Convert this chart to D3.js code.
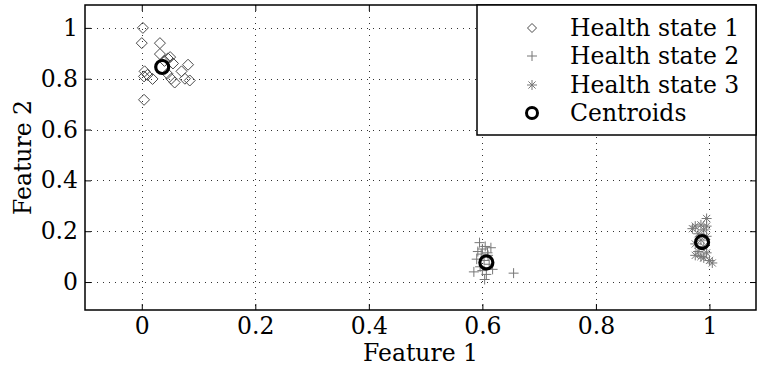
<!DOCTYPE html>
<html>
<head>
<meta charset="utf-8">
<script src="https://cdn.jsdelivr.net/npm/d3@7"></script>
<style>
  body { margin: 0; background: #fff; }
  svg text { font-family: "DejaVu Serif", "Liberation Serif", serif; fill: #000; }
</style>
</head>
<body>
<div id="chart"></div>
<script>
// Data
const state1 = [
  [0.002, 1.0], [0.0, 0.94], [0.032, 0.94], [0.032, 0.897], [0.046, 0.88],
  [0.05, 0.885], [0.04, 0.87], [0.055, 0.86], [0.0815, 0.855], [0.07, 0.829],
  [0.005, 0.829], [0.004, 0.809], [0.01, 0.815], [0.019, 0.799], [0.052, 0.80],
  [0.058, 0.785], [0.076, 0.80], [0.0845, 0.793], [0.004, 0.717], [0.045, 0.82]
];
const state2 = [
  [0.595, 0.155], [0.600, 0.13], [0.605, 0.14], [0.615, 0.135], [0.598, 0.11],
  [0.610, 0.105], [0.590, 0.09], [0.603, 0.085], [0.612, 0.07], [0.596, 0.06],
  [0.585, 0.04], [0.600, 0.045], [0.607, 0.03], [0.618, 0.05], [0.604, 0.01],
  [0.655, 0.035], [0.592, 0.12], [0.609, 0.115]
];
const state3 = [
  [0.975, 0.22], [0.985, 0.225], [0.995, 0.25], [0.99, 0.205], [0.98, 0.19],
  [0.995, 0.18], [0.985, 0.165], [0.975, 0.15], [0.99, 0.14], [0.98, 0.12],
  [0.995, 0.115], [0.985, 0.10], [0.975, 0.105], [1.0, 0.085], [1.005, 0.075],
  [0.99, 0.095], [0.97, 0.21], [0.995, 0.22]
];
const centroids = [[0.036, 0.846], [0.607, 0.077], [0.987, 0.157]];
const xTicks = [0, 0.2, 0.4, 0.6, 0.8, 1];
const yTicks = [0, 0.2, 0.4, 0.6, 0.8, 1];
const legendLabels = ["Health state 1", "Health state 2", "Health state 3", "Centroids"];

const w = 758, h = 374;
const mLeft = 85, mRight = 756, mTop = 5, mBottom = 310;
const fs = 23.5;
const svg = d3.select("#chart").append("svg").attr("width", w).attr("height", h);

const x = d3.scaleLinear().domain([-0.1, 1.082]).range([mLeft, mRight]);
const y = d3.scaleLinear().domain([-0.11, 1.09]).range([mBottom, mTop]);

// grid
const grid = svg.append("g").attr("stroke", "#333").attr("stroke-width", 1).attr("stroke-dasharray", "1,5");
grid.selectAll(".gx").data(xTicks).join("line")
  .attr("x1", d => Math.round(x(d)) + 0.5).attr("x2", d => Math.round(x(d)) + 0.5)
  .attr("y1", mTop).attr("y2", mBottom);
grid.selectAll(".gy").data(yTicks).join("line")
  .attr("y1", d => Math.round(y(d)) + 0.5).attr("y2", d => Math.round(y(d)) + 0.5)
  .attr("x1", mLeft).attr("x2", mRight);

// axes (ticks inside, box on)
const tickLen = 6;
svg.append("g").attr("transform", `translate(0,${mBottom})`)
  .call(d3.axisBottom(x).tickValues(xTicks).tickSizeInner(-tickLen).tickSizeOuter(0).tickPadding(7).tickFormat(d3.format("")))
  .call(g => g.select(".domain").remove())
  .call(g => g.selectAll("text").attr("font-size", fs).attr("font-family", "DejaVu Serif"));
svg.append("g").attr("transform", `translate(0,${mTop})`)
  .call(d3.axisTop(x).tickValues(xTicks).tickSizeInner(-tickLen).tickSizeOuter(0).tickFormat(""))
  .call(g => g.select(".domain").remove());
svg.append("g").attr("transform", `translate(${mLeft},0)`)
  .call(d3.axisLeft(y).tickValues(yTicks).tickSizeInner(-tickLen).tickSizeOuter(0).tickPadding(7).tickFormat(d3.format("")))
  .call(g => g.select(".domain").remove())
  .call(g => g.selectAll("text").attr("font-size", fs).attr("font-family", "DejaVu Serif"));
svg.append("g").attr("transform", `translate(${mRight},0)`)
  .call(d3.axisRight(y).tickValues(yTicks).tickSizeInner(-tickLen).tickSizeOuter(0).tickFormat(""))
  .call(g => g.select(".domain").remove());

svg.append("rect").attr("x", mLeft).attr("y", mTop).attr("width", mRight - mLeft).attr("height", mBottom - mTop)
  .attr("fill", "none").attr("stroke", "#000").attr("stroke-width", 1.5);

// markers
const diamond = (s) => `M0,${-s}L${s},0L0,${s}L${-s},0Z`;
const plus = (s) => `M${-s},0H${s}M0,${-s}V${s}`;
const star = (s) => {
  const a = s * 0.72;
  return `M${-s},0H${s}M0,${-s}V${s}M${-a},${-a}L${a},${a}M${-a},${a}L${a},${-a}`;
};

const pts = svg.append("g");
pts.selectAll(".s1").data(state1).join("path")
  .attr("transform", d => `translate(${x(d[0])},${y(d[1])})`)
  .attr("d", diamond(5.5)).attr("fill", "none").attr("stroke", "#4a4a4a").attr("stroke-width", 1);
pts.selectAll(".s2").data(state2).join("path")
  .attr("transform", d => `translate(${x(d[0])},${y(d[1])})`)
  .attr("d", plus(5)).attr("fill", "none").attr("stroke", "#777").attr("stroke-width", 1);
pts.selectAll(".s3").data(state3).join("path")
  .attr("transform", d => `translate(${x(d[0])},${y(d[1])})`)
  .attr("d", star(5)).attr("fill", "none").attr("stroke", "#777").attr("stroke-width", 1);
pts.selectAll(".c").data(centroids).join("circle")
  .attr("cx", d => x(d[0])).attr("cy", d => y(d[1])).attr("r", 6.5)
  .attr("fill", "none").attr("stroke", "#000").attr("stroke-width", 3.2);

// axis labels
svg.append("text").attr("x", (mLeft + mRight) / 2).attr("y", 361).attr("text-anchor", "middle")
  .attr("font-size", fs).text("Feature 1");
svg.append("text").attr("transform", `translate(31,${(mTop + mBottom) / 2}) rotate(-90)`)
  .attr("text-anchor", "middle").attr("font-size", fs).text("Feature 2");

// legend
const lg = svg.append("g");
lg.append("rect").attr("x", 477).attr("y", mTop).attr("width", mRight - 477).attr("height", 130)
  .attr("fill", "#fff").attr("stroke", "#000").attr("stroke-width", 1.5);
const rows = [28, 56, 85, 113];
const glyphs = [
  { d: diamond(4.5), stroke: "#4a4a4a", sw: 1 },
  { d: plus(5), stroke: "#777", sw: 1 },
  { d: star(5), stroke: "#777", sw: 1 },
  { circle: true }
];
legendLabels.forEach((lab, i) => {
  const g = glyphs[i];
  if (g.circle) {
    lg.append("circle").attr("cx", 532).attr("cy", rows[i]).attr("r", 5.5)
      .attr("fill", "none").attr("stroke", "#000").attr("stroke-width", 3);
  } else {
    lg.append("path").attr("transform", `translate(532,${rows[i]})`).attr("d", g.d)
      .attr("fill", "none").attr("stroke", g.stroke).attr("stroke-width", g.sw);
  }
  lg.append("text").attr("x", 570).attr("y", rows[i] + 8).attr("font-size", fs).text(lab);
});
</script>
</body>
</html>
